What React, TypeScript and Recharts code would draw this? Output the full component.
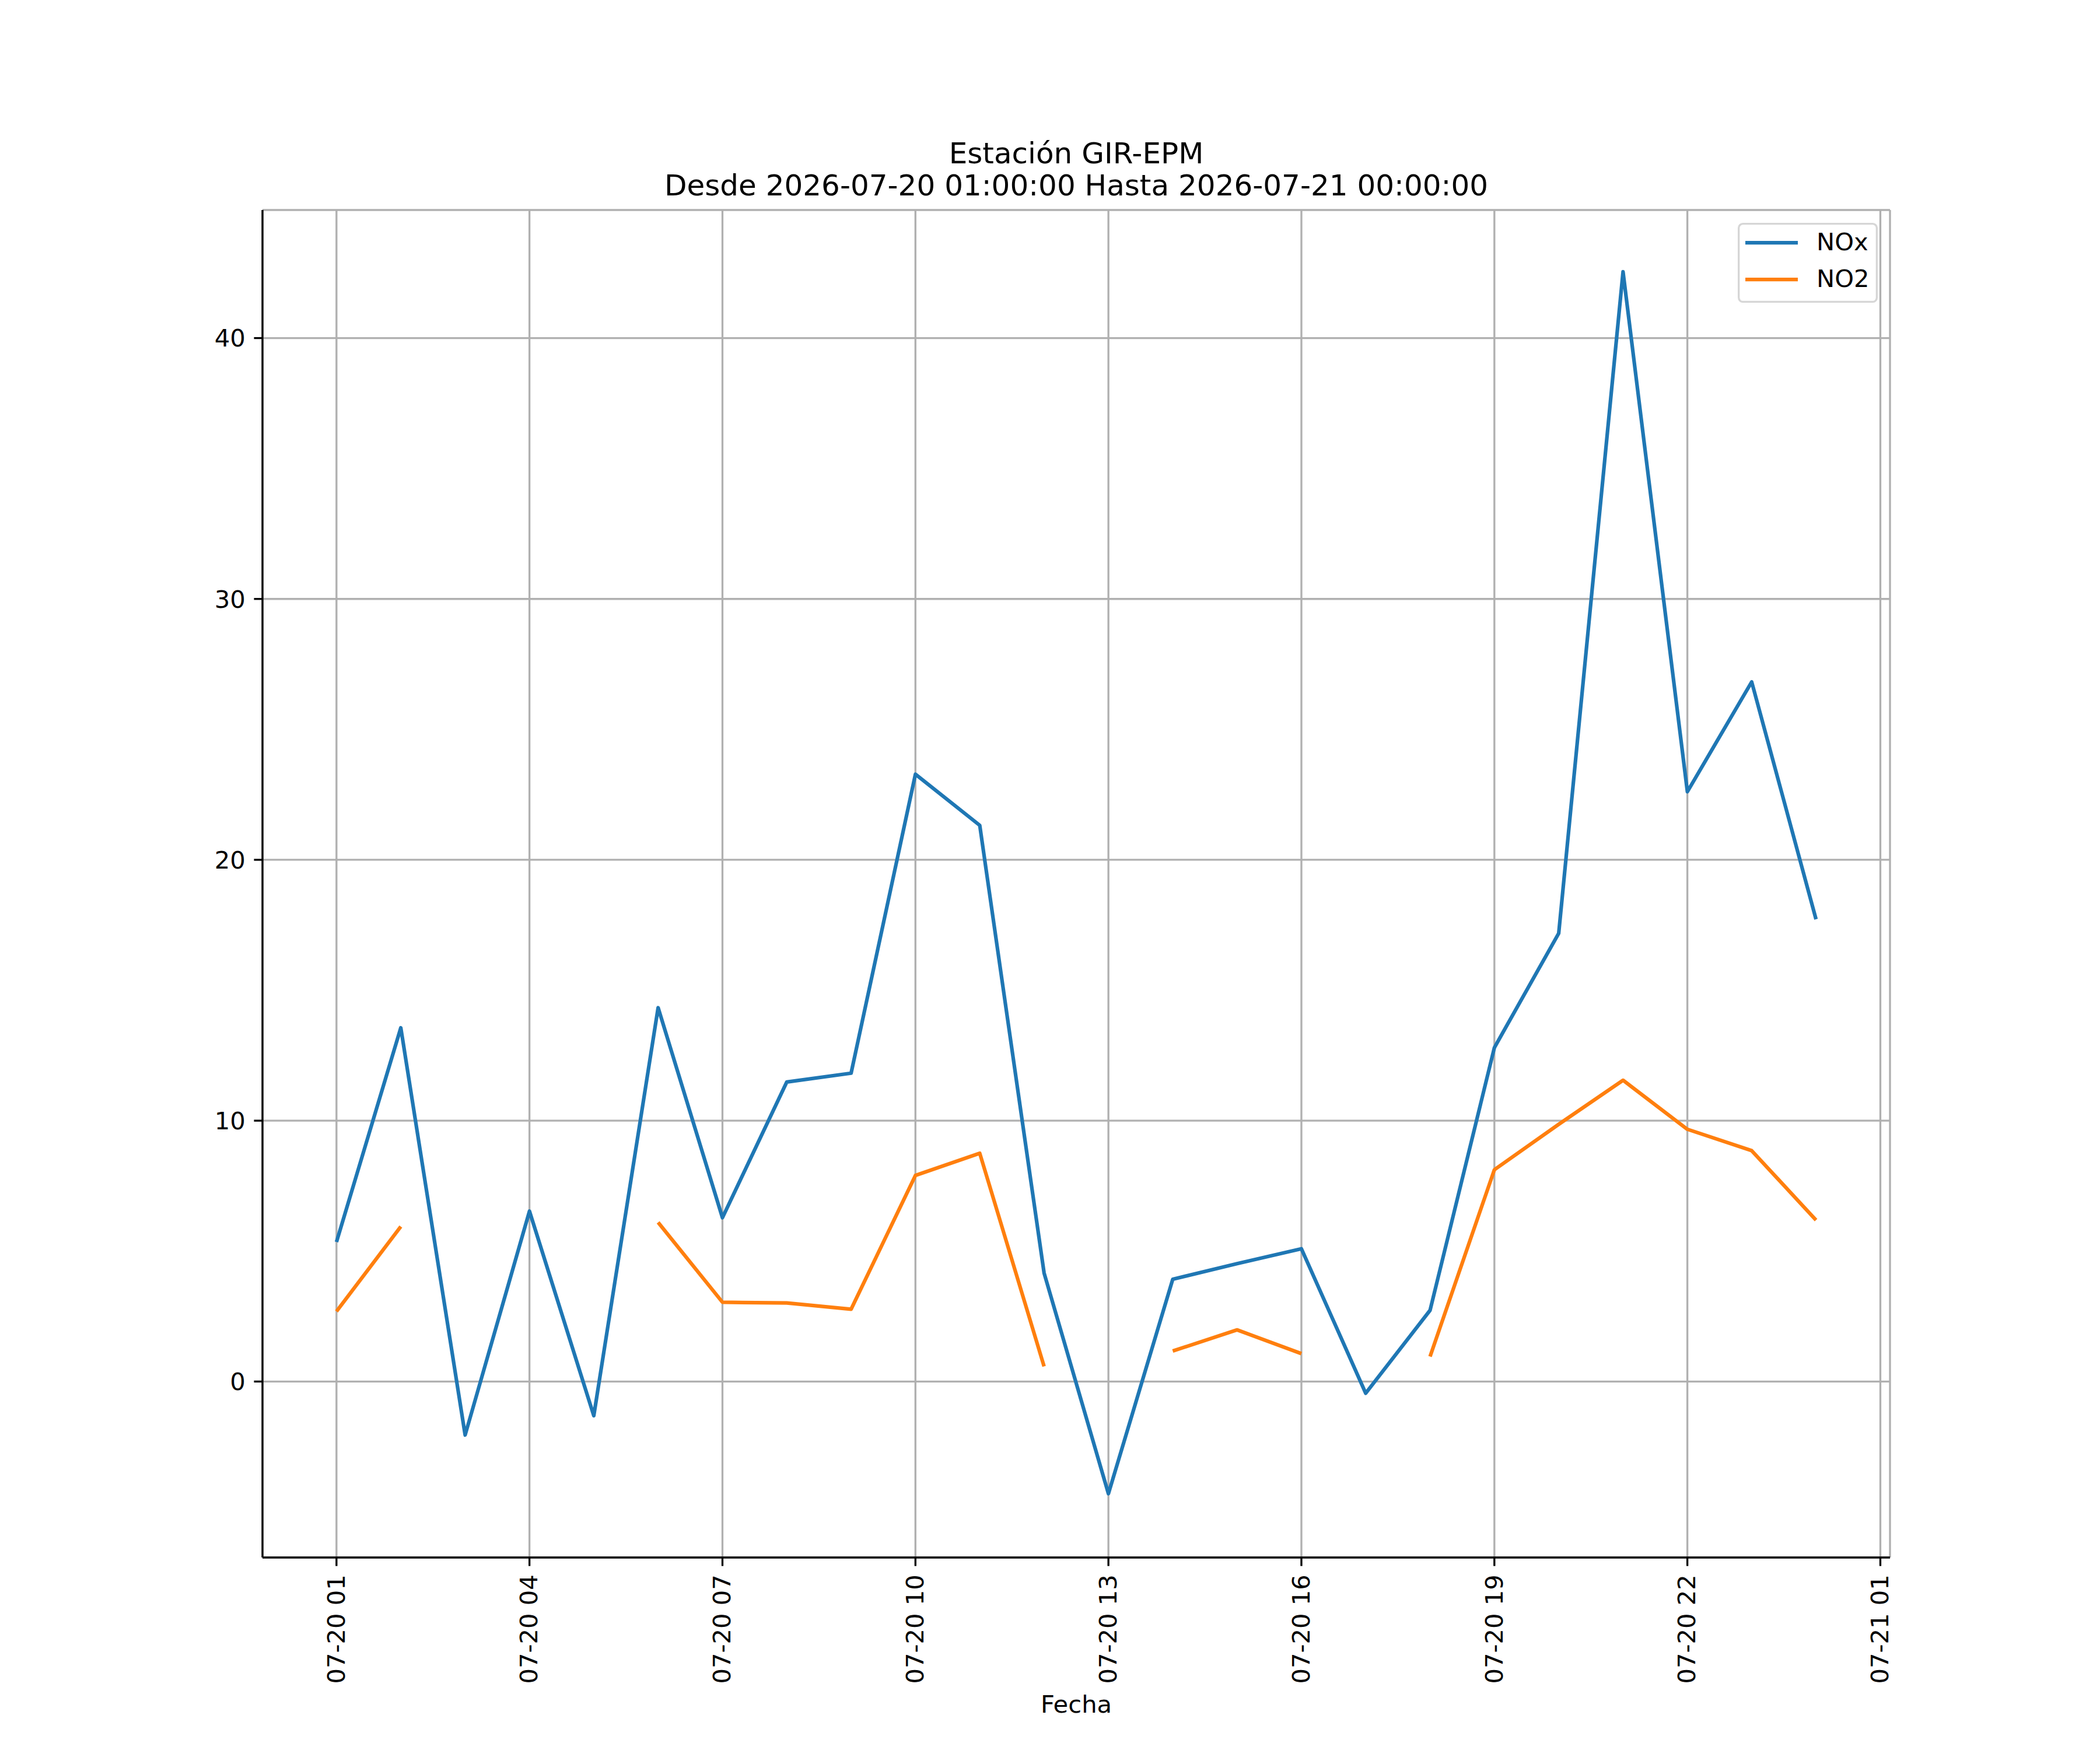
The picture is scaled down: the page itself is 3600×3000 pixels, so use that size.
import React from 'react';
import { LineChart, Line, XAxis, YAxis, CartesianGrid, Legend } from 'recharts';

// ---- data ----
const hours = [1, 2, 3, 4, 5, 6, 7, 8, 9, 10, 11, 12, 13, 14, 15, 16, 17, 18, 19, 20, 21, 22, 23, 24];
const noxValues = [5.35, 13.56, -2.05, 6.53, -1.31, 14.33, 6.28, 11.48, 11.82, 23.28, 21.32, 4.16, -4.3, 3.92, 4.52, 5.09, -0.45, 2.73, 12.8, 17.18, 42.54, 22.61, 26.82, 17.72];
const no2Values: (number | null)[] = [2.69, 5.94, null, null, null, 6.1, 3.04, 3.01, 2.77, 7.9, 8.75, 0.58, null, 1.17, 1.98, 1.07, null, 0.96, 8.12, 9.86, 11.55, 9.67, 8.85, 6.19];
const seriesNames = ['NOx', 'NO2'];
const seriesColors = ['#1f77b4', '#ff7f0e'];
const xTickHours = [1, 4, 7, 10, 13, 16, 19, 22, 25];
const xTickLabels = ['07-20 01', '07-20 04', '07-20 07', '07-20 10', '07-20 13', '07-20 16', '07-20 19', '07-20 22', '07-21 01'];
const yTicks = [0, 10, 20, 30, 40];
const titleLines = ['Estación GIR-EPM', 'Desde 2026-07-20 01:00:00 Hasta 2026-07-21 00:00:00'];
const xAxisTitle = 'Fecha';

const data = hours.map((h, i) => ({ hour: h, [seriesNames[0]]: noxValues[i], [seriesNames[1]]: no2Values[i] }));

// ---- styling ----
const PT = 300 / 72;
const FONT = 'DejaVu Sans';
const FS = 10 * PT;
const W = 3600;
const H = 3000;
const PLOT_LEFT = 450;
const PLOT_RIGHT = 3240;
const PLOT_TOP = 360;
const PLOT_BOTTOM = 2670;
const Y_AXIS_W = 150;
const X_AXIS_H = 270;

const XTick = (props: any) => {
  const { x, y, payload } = props;
  const idx = xTickHours.indexOf(payload.value);
  return (
    <text
      x={x}
      y={y}
      transform={`rotate(-90 ${x} ${y})`}
      textAnchor="end"
      dy="0.33em"
      fontFamily={FONT}
      fontSize={FS}
      fill="#000"
    >
      {idx >= 0 ? xTickLabels[idx] : ''}
    </text>
  );
};

const LegendBox = (props: any) => {
  const items = [...(props.payload || [])].sort(
    (a: any, b: any) => seriesNames.indexOf(String(a.value)) - seriesNames.indexOf(String(b.value)),
  );
  return (
    <svg width={240} height={137} style={{ display: 'block', overflow: 'visible' }}>
      <rect x={1.67} y={1.67} width={236.7} height={133.7} rx={7} ry={7} fill="#fff" fillOpacity={0.8} stroke="#d6d6d6" strokeWidth={3.33} />
      {items.map((it: any, i: number) => (
        <g key={String(it.value)}>
          <line x1={13} x2={103} y1={34 + i * 63} y2={34 + i * 63} stroke={it.color} strokeWidth={1.5 * PT} />
          <text x={135} y={47.3 + i * 63} fontFamily={FONT} fontSize={FS} fill="#000">
            {it.value}
          </text>
        </g>
      ))}
    </svg>
  );
};

export default function App() {
  return (
    <div style={{ position: 'absolute', left: 0, top: 0, width: W, height: H, background: '#fff' }}>
      <LineChart
        width={W}
        height={H}
        data={data}
        margin={{
          top: PLOT_TOP,
          right: W - PLOT_RIGHT,
          left: PLOT_LEFT - Y_AXIS_W,
          bottom: H - PLOT_BOTTOM - X_AXIS_H,
        }}
      >
        <CartesianGrid stroke="#b0b0b0" strokeWidth={0.8 * PT} />
        <XAxis
          dataKey="hour"
          type="number"
          domain={[-0.15, 25.15]}
          allowDataOverflow
          ticks={xTickHours}
          interval={0}
          height={X_AXIS_H}
          tick={<XTick />}
          tickSize={3.5 * PT}
          tickMargin={3.5 * PT}
          tickLine={{ stroke: '#000', strokeWidth: 0.8 * PT }}
          axisLine={{ stroke: '#000', strokeWidth: 0.8 * PT }}
          label={{ value: xAxisTitle, position: 'insideBottom', offset: 4, fontFamily: FONT, fontSize: FS, fill: '#000' }}
        />
        <XAxis
          xAxisId="top"
          dataKey="hour"
          type="number"
          orientation="top"
          domain={[-0.15, 25.15]}
          allowDataOverflow
          height={0}
          tick={false}
          tickLine={false}
          axisLine={{ stroke: '#000', strokeWidth: 0.8 * PT }}
        />
        <YAxis
          type="number"
          domain={[-6.746, 44.91]}
          allowDataOverflow
          ticks={yTicks}
          interval={0}
          width={Y_AXIS_W}
          tickSize={3.5 * PT}
          tickMargin={3.5 * PT}
          tick={{ fontFamily: FONT, fontSize: FS, fill: '#000' }}
          tickLine={{ stroke: '#000', strokeWidth: 0.8 * PT }}
          axisLine={{ stroke: '#000', strokeWidth: 0.8 * PT }}
        />
        <YAxis
          yAxisId="right"
          orientation="right"
          type="number"
          domain={[-6.746, 44.91]}
          allowDataOverflow
          width={0}
          tick={false}
          tickLine={false}
          axisLine={{ stroke: '#000', strokeWidth: 0.8 * PT }}
        />
        {seriesNames.map((name, i) => (
          <Line
            key={name}
            type="linear"
            dataKey={name}
            name={name}
            stroke={seriesColors[i]}
            strokeWidth={1.5 * PT}
            strokeLinejoin="round"
            dot={false}
            activeDot={false}
            connectNulls={false}
            isAnimationActive={false}
          />
        ))}
        <Legend
          layout="vertical"
          align="center"
          verticalAlign="middle"
          content={<LegendBox />}
          wrapperStyle={{ left: 2979, top: 382, width: 240, height: 137, margin: 0, padding: 0 }}
        />
      </LineChart>
      <svg
        width={W}
        height={400}
        style={{ position: 'absolute', left: 0, top: 0, pointerEvents: 'none' }}
      >
        <text x={(PLOT_LEFT + PLOT_RIGHT) / 2} y={280} textAnchor="middle" fontFamily={FONT} fontSize={12 * PT} fill="#000">
          {titleLines[0]}
        </text>
        <text x={(PLOT_LEFT + PLOT_RIGHT) / 2} y={335} textAnchor="middle" fontFamily={FONT} fontSize={12 * PT} fill="#000">
          {titleLines[1]}
        </text>
      </svg>
    </div>
  );
}
